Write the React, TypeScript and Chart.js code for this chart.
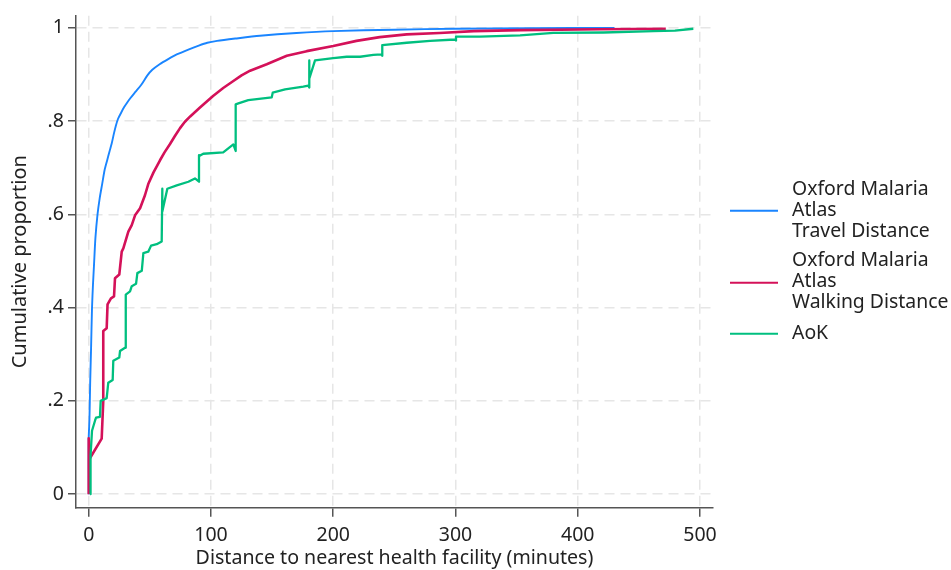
import React, { useEffect, useRef } from "react";
import { Chart, registerables } from "chart.js";

Chart.register(...registerables);

// ---- Data ----
const travelX = [0, 0, 0.6, 1.2, 1.9, 2.7, 3.5, 4.3, 5.5, 7.2, 9, 11, 13, 15, 17, 18.8, 20.5, 22.2, 24, 26.5, 29, 31.5, 34, 38, 43, 48, 52, 58, 65, 72, 82, 90, 97, 105, 120, 140, 170, 200, 250, 300, 360, 430];
const travelY = [0, 0.12, 0.16, 0.24, 0.31, 0.4, 0.45, 0.49, 0.55, 0.6, 0.635, 0.665, 0.695, 0.715, 0.735, 0.752, 0.772, 0.79, 0.805, 0.818, 0.83, 0.84, 0.849, 0.862, 0.878, 0.898, 0.91, 0.922, 0.933, 0.943, 0.954, 0.962, 0.968, 0.972, 0.977, 0.983, 0.989, 0.993, 0.996, 0.998, 0.999, 1.0];

const walkingX = [0, 0, 1, 10.6, 11.9, 11.9, 14.7, 15.4, 18.2, 20.7, 21.5, 25.0, 27.0, 28.3, 32.4, 35.2, 37.9, 42, 46, 48.7, 53, 58.3, 62, 66.5, 70.5, 74.7, 78.5, 83, 91, 101.7, 110, 118.3, 125, 132, 145.6, 162, 178.3, 200, 219, 238, 260, 287, 315, 353, 418, 472];
const walkingY = [0, 0.12, 0.077, 0.119, 0.2, 0.35, 0.356, 0.407, 0.42, 0.424, 0.463, 0.471, 0.52, 0.527, 0.563, 0.577, 0.598, 0.613, 0.641, 0.665, 0.69, 0.716, 0.733, 0.751, 0.768, 0.785, 0.798, 0.81, 0.829, 0.854, 0.871, 0.886, 0.898, 0.908, 0.922, 0.94, 0.95, 0.961, 0.972, 0.98, 0.986, 0.989, 0.993, 0.995, 0.997, 0.998];

const aokX = [1.1, 1.5, 2.7, 5.2, 6.0, 9.2, 9.8, 14.7, 16.0, 19.6, 20.1, 25.0, 25.6, 29.7, 30.3, 33.8, 35.2, 38.7, 39.8, 43.4, 44.7, 48.7, 51, 55.6, 59.7, 60.2, 60.2, 64.3, 72, 81.5, 86.9, 90.2, 90.2, 91.1, 93.7, 110, 118.3, 120.2, 120.2, 122.4, 130.5, 149.7, 150.5, 160.6, 175.5, 179.6, 180.4, 180.4, 180.4, 185.1, 200, 211, 222, 232.8, 239.6, 240.1, 240.1, 260.1, 279.2, 299.6, 300.4, 300.4, 320, 352.8, 380, 421, 461.8, 479.5, 494.5];
const aokY = [0, 0.083, 0.136, 0.158, 0.164, 0.166, 0.2, 0.206, 0.239, 0.245, 0.286, 0.293, 0.307, 0.314, 0.428, 0.435, 0.446, 0.451, 0.474, 0.479, 0.517, 0.52, 0.533, 0.536, 0.542, 0.655, 0.606, 0.655, 0.662, 0.67, 0.677, 0.67, 0.727, 0.726, 0.73, 0.733, 0.75, 0.736, 0.836, 0.838, 0.845, 0.851, 0.861, 0.868, 0.874, 0.876, 0.872, 0.93, 0.891, 0.93, 0.935, 0.938, 0.938, 0.942, 0.943, 0.94, 0.963, 0.968, 0.972, 0.975, 0.973, 0.981, 0.981, 0.984, 0.989, 0.99, 0.993, 0.994, 0.998];

const xTicks = [0, 100, 200, 300, 400, 500];
const yTicks = [0, 0.2, 0.4, 0.6, 0.8, 1];
const yTickLabels = ["0", ".2", ".4", ".6", ".8", "1"];

const seriesLabels = [
  ["Oxford Malaria", "Atlas", "Travel Distance"],
  ["Oxford Malaria", "Atlas", "Walking Distance"],
  ["AoK"],
];
const seriesColors = ["#1a85ff", "#d41159", "#00bf7f"];
const seriesWidths = [1.9, 2.6, 2.3];
const seriesTension = [0.25, 0, 0];

const xTitle = "Distance to nearest health facility (minutes)";
const yTitle = "Cumulative proportion";

const FONT = "'Noto Sans', 'Open Sans', sans-serif";

function toPoints(xs: number[], ys: number[]) {
  return xs.map((x, i) => ({ x, y: ys[i] }));
}

const legendPlugin = {
  id: "customLegend",
  afterDraw(chart: any) {
    const { ctx, chartArea } = chart;
    const cy = (chartArea.top + chartArea.bottom) / 2;
    const lineH = 21;
    const groups = [
      { lines: seriesLabels[0], start: cy - 72, sample: cy - 51 },
      { lines: seriesLabels[1], start: cy - 1, sample: cy + 21 },
      { lines: seriesLabels[2], start: cy + 72, sample: cy + 72 },
    ];
    ctx.save();
    ctx.font = `19.4px ${FONT}`;
    ctx.fillStyle = "#222";
    ctx.textBaseline = "middle";
    ctx.textAlign = "left";
    groups.forEach((g, i) => {
      ctx.strokeStyle = seriesColors[i];
      ctx.lineWidth = 2;
      ctx.beginPath();
      ctx.moveTo(chartArea.right + 17, g.sample);
      ctx.lineTo(chartArea.right + 65, g.sample);
      ctx.stroke();
      g.lines.forEach((t, j) => {
        ctx.fillText(t, chartArea.right + 79, g.start + j * lineH);
      });
    });
    ctx.restore();
  },
};

export default function App() {
  const ref = useRef<HTMLCanvasElement | null>(null);

  useEffect(() => {
    if (!ref.current) return;
    const datasets = [
      { xs: travelX, ys: travelY },
      { xs: walkingX, ys: walkingY },
      { xs: aokX, ys: aokY },
    ].map((s, i) => ({
      label: seriesLabels[i].join(" "),
      data: toPoints(s.xs, s.ys),
      borderColor: seriesColors[i],
      backgroundColor: seriesColors[i],
      borderWidth: seriesWidths[i],
      pointRadius: 0,
      tension: seriesTension[i],
      fill: false,
      order: 3 - i,
      borderJoinStyle: "round" as const,
    }));

    const chart = new Chart(ref.current, {
      type: "line",
      data: { datasets },
      plugins: [legendPlugin],
      options: {
        responsive: false,
        animation: false,
        parsing: false,
        layout: { padding: { top: 12.7, right: 238, left: 0, bottom: 0 } },
        plugins: {
          legend: { display: false },
          tooltip: { enabled: false },
        },
        scales: {
          x: {
            type: "linear",
            min: -10.4,
            max: 510.6,
            afterBuildTicks: (scale: any) => {
              scale.ticks = xTicks.map((v) => ({ value: v }));
            },
            afterFit: (scale: any) => {
              scale.height = 62.3;
            },
            ticks: {
              color: "#222",
              font: { family: FONT, size: 19.5 },
              padding: 7,
              maxRotation: 0,
              callback: (v: any) => String(v),
            },
            grid: {
              color: "#e6e6e6",
              lineWidth: 1.5,
              drawTicks: true,
              tickLength: 9,
              tickColor: "#555",
              tickWidth: 1.5,
            },
            border: { display: true, color: "#555", width: 1.5, dash: [10, 6] },
            title: {
              display: true,
              text: xTitle,
              color: "#222",
              font: { family: FONT, size: 19.6 },
              padding: { top: 0, bottom: 0 },
            },
          },
          y: {
            type: "linear",
            min: -0.029,
            max: 1.026,
            afterBuildTicks: (scale: any) => {
              scale.ticks = yTicks.map((v) => ({ value: v }));
            },
            afterFit: (scale: any) => {
              scale.width = 76;
            },
            ticks: {
              color: "#222",
              font: { family: FONT, size: 19.5 },
              padding: 4,
              callback: (v: any) => {
                const idx = yTicks.findIndex((t) => Math.abs(t - v) < 1e-9);
                return idx >= 0 ? yTickLabels[idx] : "";
              },
            },
            grid: {
              color: "#e6e6e6",
              lineWidth: 1.5,
              drawTicks: true,
              tickLength: 8,
              tickColor: "#555",
              tickWidth: 1.5,
            },
            border: { display: true, color: "#555", width: 1.5, dash: [10, 6] },
            title: {
              display: true,
              text: yTitle,
              color: "#222",
              font: { family: FONT, size: 20 },
              padding: { top: 8, bottom: 0 },
            },
          },
        },
      },
    } as any);

    return () => chart.destroy();
  }, []);

  return (
    <div style={{ position: "absolute", left: 0, top: 0, width: 951, height: 570, background: "#fff" }}>
      <canvas ref={ref} width={951} height={570} style={{ display: "block" }} />
    </div>
  );
}
